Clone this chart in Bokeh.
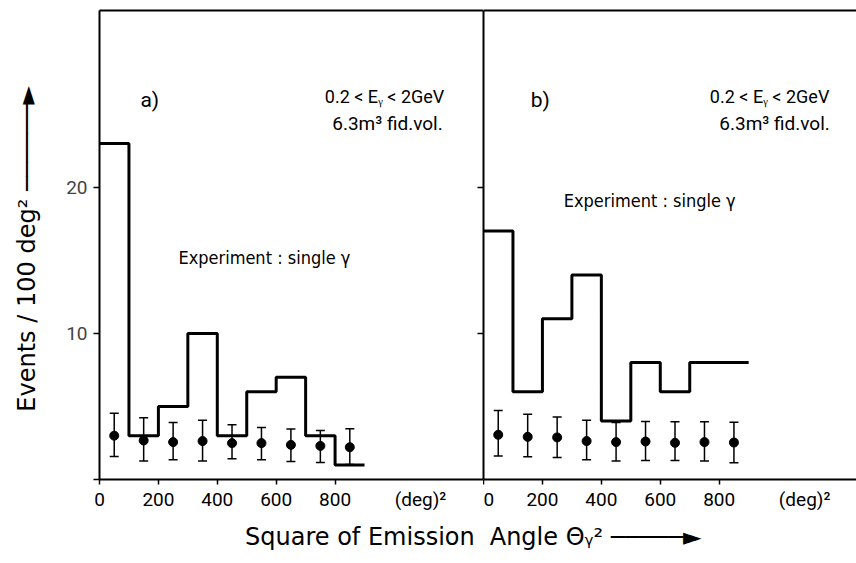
from bokeh.plotting import figure
from bokeh.layouts import row
from bokeh.models import (Range1d, LinearAxis, FixedTicker, Label, Whisker,
                          TeeHead, ColumnDataSource)
from bokeh.embed import file_html
from bokeh.resources import INLINE

# ---------------- data ----------------
bin_edges = [0, 100, 200, 300, 400, 500, 600, 700, 800, 900]
hist_a = [23, 3, 5, 10, 3, 6, 7, 3, 1]
hist_b = [17, 6, 11, 14, 4, 8, 6, 8, 8]

bin_centers = [50, 150, 250, 350, 450, 550, 650, 750, 850]
pts_a = [3.0, 2.67, 2.56, 2.63, 2.49, 2.49, 2.37, 2.30, 2.21]
up_a = [4.54, 4.22, 3.90, 4.06, 3.74, 3.56, 3.45, 3.36, 3.47]
lo_a = [1.57, 1.26, 1.35, 1.26, 1.42, 1.35, 1.23, 1.16, 1.03]
pts_b = [3.06, 2.92, 2.88, 2.63, 2.56, 2.60, 2.51, 2.56, 2.53]
up_b = [4.73, 4.47, 4.28, 4.06, 3.90, 3.97, 3.95, 3.95, 3.92]
lo_b = [1.60, 1.55, 1.51, 1.35, 1.26, 1.30, 1.30, 1.26, 1.15]

x_ticks = [0, 200, 400, 600, 800]
unit_pos = 1090
x_tick_labels = {unit_pos: "(deg)²"}
y_ticks = [0, 10, 20]
y_tick_labels = {0: "", 10: "10", 20: "20"}

EM, EN, THIN = "\u2003", "\u2002", "\u2009"
y_title = "Events / 100 deg²  ──────►"
# the x title runs across both panels; padding shifts each half towards the seam
x_title_a = EM * 5 + EN + THIN + "Square of Emission"
x_title_b = "Angle Θᵧ² ─────►" + EM * 6 + THIN

SMALL = "Roboto"
COND = "DejaVu Sans Condensed"
BIG = "DejaVu Sans"
H = 563


def base_fig(width, xmax, left_border, x_title):
    p = figure(width=width, height=H, output_backend="svg", toolbar_location=None,
               x_range=Range1d(0, xmax), y_range=Range1d(0, 32.1),
               x_axis_location=None, y_axis_location=None,
               min_border_left=left_border, min_border_right=0,
               min_border_top=10, min_border_bottom=84)
    p.xgrid.visible = False
    p.ygrid.visible = False
    p.outline_line_color = None
    p.background_fill_color = "white"
    p.border_fill_color = "white"
    xa = LinearAxis(ticker=FixedTicker(ticks=x_ticks + [unit_pos], minor_ticks=x_ticks),
                    axis_line_width=2,
                    major_tick_out=5, major_tick_in=0, major_tick_line_color=None,
                    minor_tick_out=5, minor_tick_in=0, minor_tick_line_width=1.5,
                    minor_tick_line_color="black",
                    major_label_standoff=3, major_label_overrides=x_tick_labels,
                    major_label_text_font=SMALL, major_label_text_font_size="19px",
                    major_label_text_color="black",
                    axis_label=x_title, axis_label_standoff=9,
                    axis_label_text_font=BIG, axis_label_text_font_size="24px",
                    axis_label_text_font_style="normal", axis_label_text_color="black")
    p.add_layout(xa, "below")
    ta = LinearAxis(ticker=FixedTicker(ticks=[]), axis_line_width=2,
                    major_tick_out=0, major_tick_in=0, minor_tick_line_color=None,
                    major_label_standoff=0)
    p.add_layout(ta, "above")
    return p


def draw_panel(p, hist, pts, up, lo):
    p.step(bin_edges, hist + [hist[-1]], mode="after", line_width=3, line_color="black")
    src = ColumnDataSource(dict(x=bin_centers, y=pts, up=up, lo=lo))
    w = Whisker(base="x", upper="up", lower="lo", source=src, line_width=1.5,
                line_color="black",
                upper_head=TeeHead(size=9, line_width=1.5, line_color="black"),
                lower_head=TeeHead(size=9, line_width=1.5, line_color="black"))
    p.add_layout(w)
    p.scatter("x", "y", source=src, size=9, fill_color="black", line_color="black")


def lab(p, x, y, text, font=SMALL, size="18px", align="center", baseline="middle"):
    p.add_layout(Label(x=x, y=y, text=text, text_font=font, text_font_size=size,
                       text_align=align, text_baseline=baseline, text_color="black"))


# ---------------- panel a ----------------
pa = base_fig(483, 1304, 99, x_title_a)
ya = LinearAxis(ticker=FixedTicker(ticks=y_ticks), axis_line_width=2,
                major_tick_out=6, major_tick_in=0, major_tick_line_width=1.5,
                minor_tick_line_color=None, major_label_standoff=6,
                major_label_overrides=y_tick_labels,
                major_label_text_font=SMALL, major_label_text_font_size="19px",
                major_label_orientation="horizontal",
                axis_label=y_title, axis_label_standoff=22,
                axis_label_text_font=BIG, axis_label_text_font_size="24px",
                axis_label_text_font_style="normal", axis_label_text_color="black")
pa.add_layout(ya, "left")
ra = LinearAxis(ticker=FixedTicker(ticks=[10, 20]), axis_line_width=2,
                major_tick_out=0, major_tick_in=6, major_tick_line_width=1.5,
                minor_tick_line_color=None, major_label_standoff=0,
                major_label_overrides={10: "", 20: ""})
pa.add_layout(ra, "right")
draw_panel(pa, hist_a, pts_a, up_a, lo_a)

lab(pa, 139, 26.0, "a)", size="21px", align="left")
lab(pa, 968, 26.2, "0.2 < Eᵧ < 2GeV")
lab(pa, 978, 24.4, "6.3m³ fid.vol.", size="19px")
lab(pa, 560, 15.2, "Experiment : single γ", font=COND, size="18px")

# ---------------- panel b ----------------
pb = base_fig(373, 1266, 0, x_title_b)
la = LinearAxis(ticker=FixedTicker(ticks=[]), axis_line_width=2,
                major_tick_out=0, major_tick_in=0, minor_tick_line_color=None,
                major_label_standoff=0)
pb.add_layout(la, "left")
draw_panel(pb, hist_b, pts_b, up_b, lo_b)

lab(pb, 160, 26.0, "b)", size="21px", align="left")
lab(pb, 971, 26.2, "0.2 < Eᵧ < 2GeV")
lab(pb, 988, 24.4, "6.3m³ fid.vol.", size="19px")
lab(pb, 564, 19.1, "Experiment : single γ", font=COND, size="18px")

layout = row(pa, pb, spacing=0)
open("out.html", "w").write(file_html(layout, INLINE))
